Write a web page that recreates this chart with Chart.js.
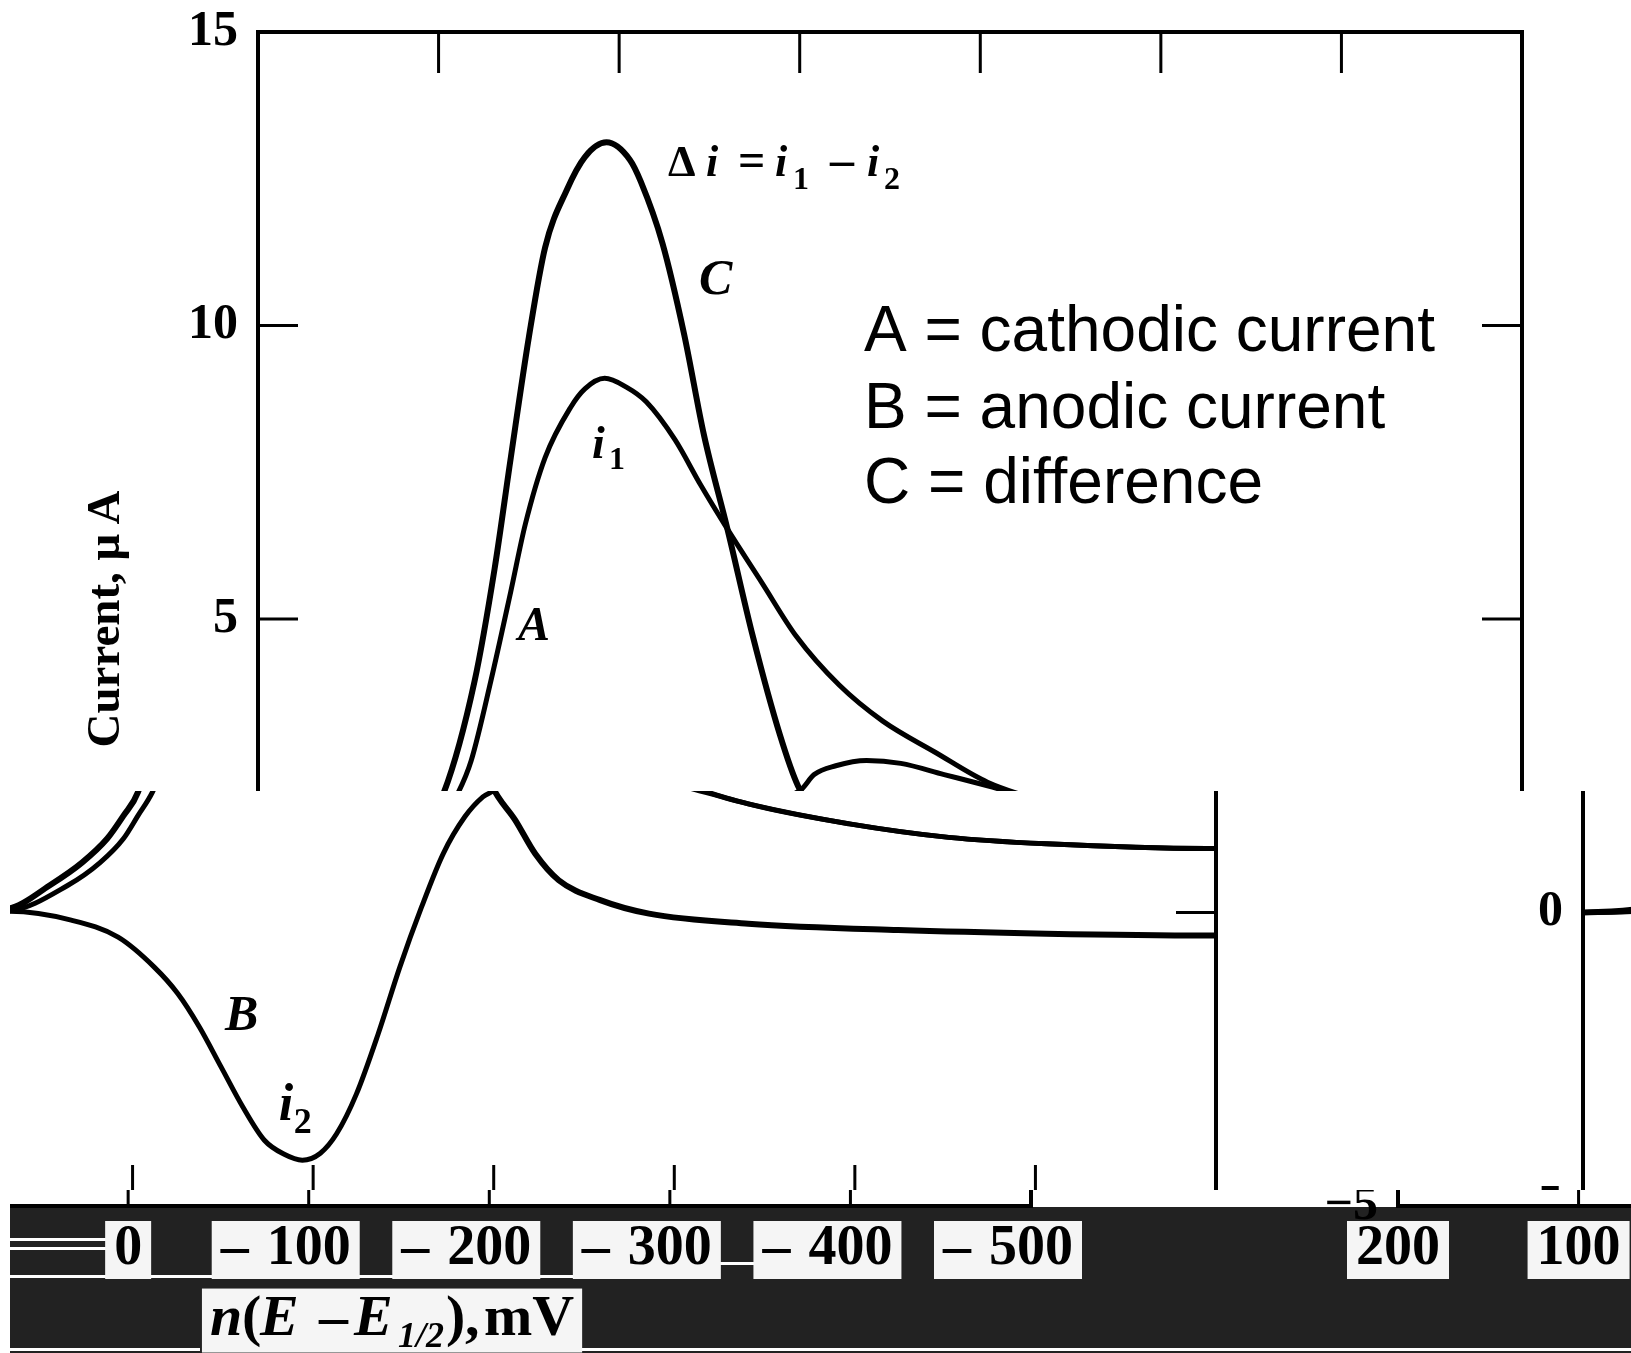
<!DOCTYPE html>
<html>
<head>
<meta charset="utf-8">
<title>Square wave voltammogram</title>
<script src="https://cdn.jsdelivr.net/npm/chart.js@4.4.0/dist/chart.umd.min.js"></script>
<style>
  html, body { margin: 0; padding: 0; background: #fff; }
  #page { position: relative; width: 1631px; height: 1353px; overflow: hidden; background: #fff; }
  .strip { position: absolute; left: 0; width: 1631px; overflow: hidden; }
  .copy { position: absolute; width: 1631px; height: 1353px; }
  .copy canvas { display: block; }
  .band { position: absolute; left: 10px; right: 0; background: #222; }
  .scratch { position: absolute; height: 3px; background: #fff; }
  .margin { position: absolute; left: 0; top: 0; bottom: 0; width: 10px; background: #fff; z-index: 2; }
</style>
</head>
<body>
<div id="page"></div>
<script>
// n(E - E1/2) in mV, currents in uA
const cathodicE = [200, 168, 136, 118, 105, 97, 89, 82, 71, 60, 52, 41, 27, 19, 8, -4, -15, -31, -45, -60, -79, -98, -122, -146, -175, -204, -241, -297, -352, -406, -495, -500];
const cathodicI = [0, 0.03, 0.46, 0.85, 1.26, 1.65, 2.05, 2.58, 3.95, 5.47, 6.61, 7.75, 8.6, 8.92, 9.1, 8.95, 8.7, 8.05, 7.29, 6.53, 5.62, 4.71, 3.87, 3.26, 2.73, 2.22, 1.85, 1.51, 1.28, 1.17, 1.09, 1.09];

const anodicE = [200, 168, 134, 108, 88, 75, 63, 51, 39, 27, 16, 6, -4, -13, -24, -36, -48, -60, -72, -84, -94, -101, -108, -120, -137, -156, -180, -204, -241, -297, -352, -406, -495, -500];
const anodicI = [0, 0.02, -0.13, -0.42, -0.93, -1.38, -1.95, -2.63, -3.31, -3.88, -4.12, -4.22, -4.1, -3.77, -3.09, -2.07, -0.93, 0.09, 1.0, 1.63, 1.97, 2.1, 2.35, 2.5, 2.59, 2.54, 2.35, 2.16, 1.85, 1.51, 1.28, 1.17, 1.09, 1.09];

const diffE = [200, 168, 146, 128, 114, 105, 97, 80, 69, 60, 50, 41, 29, 19, 7, -6, -12, -24, -36, -47, -60, -74, -89, -99, -112, -123, -136, -159, -186, -241, -324, -406, -495, -500];
const diffI = [0, 0.07, 0.46, 0.85, 1.26, 1.65, 2.05, 3.95, 5.85, 7.75, 9.8, 11.33, 12.31, 12.87, 13.12, 12.82, 12.45, 11.4, 9.85, 8.13, 6.53, 4.71, 3.03, 2.16, 1.57, 1.0, 0.55, 0.21, -0.02, -0.19, -0.3, -0.36, -0.39, -0.39];

const legendLines = ['A = cathodic current', 'B = anodic current', 'C = difference'];
const yTitle = 'Current, \u03bc\u2009A';

const serif = 'Liberation Serif';
const B = s => `bold ${s}px ${serif}`;
const BI = s => `italic bold ${s}px ${serif}`;

function toPoints(xs, ys) {
  return xs.map((x, i) => ({ x: x, y: ys[i] }));
}

function yLabel(v) {
  return v < 0 ? '\u2212' + (-v) : String(v);
}

// text placed by a data anchor, then pixel offsets for each piece
const notes = [
  { at: [-27.1, 12.54], parts: [
    { t: '\u0394', f: B(44), dx: 0 }, { t: 'i', f: BI(44), dx: 38 }, { t: '=', f: B(48), dx: 70 },
    { t: 'i', f: BI(44), dx: 107 }, { t: '1', f: B(32), dx: 125, dy: 13 }, { t: '\u2013', f: B(48), dx: 162 },
    { t: 'i', f: BI(44), dx: 199 }, { t: '2', f: B(32), dx: 216, dy: 13 }] },
  { at: [-44.2, 10.53], parts: [{ t: 'C', f: BI(50), dx: 0 }] },
  { at: [56.0, 4.64], parts: [{ t: 'A', f: BI(48), dx: 0 }] },
  { at: [15.0, 7.75], parts: [{ t: 'i', f: BI(46), dx: 0 }, { t: '1', f: B(32), dx: 17, dy: 11 }] },
  { at: [48.8, -2.01], parts: [{ t: 'B', f: BI(50), dx: 0 }] },
  { at: [19.1, -3.54], parts: [{ t: 'i', f: BI(52), dx: 0 }, { t: '2', f: B(36), dx: 15, dy: 13 }] }
];

const axisTitle = { at: [-45.3, -7.19], parts: [
  { t: 'n', f: BI(58), dx: 0 }, { t: '(', f: B(58), dx: 32 }, { t: 'E', f: BI(58), dx: 50 },
  { t: '\u2013', f: B(58), dx: 109 }, { t: 'E', f: BI(58), dx: 144 }, { t: '1/2', f: BI(36), dx: 188, dy: 12 },
  { t: ')', f: B(58), dx: 236 }, { t: ',', f: B(58), dx: 255 }, { t: 'mV', f: B(58), dx: 274 }] };

function drawParts(ctx, x0, y0, parts) {
  parts.forEach(p => {
    ctx.font = p.f;
    ctx.fillText(p.t, x0 + p.dx, y0 + (p.dy || 0));
  });
}

const framePlugin = {
  id: 'frame',
  afterDatasetsDraw(chart) {
    const { ctx, chartArea: a, scales: { x, y } } = chart;
    ctx.save();
    ctx.strokeStyle = '#000';
    ctx.lineWidth = 4;
    ctx.strokeRect(a.left, a.top, a.right - a.left, a.bottom - a.top);
    ctx.lineWidth = 3;
    ctx.beginPath();
    x.ticks.forEach(t => {
      const p = x.getPixelForValue(t.value);
      ctx.moveTo(p, a.top); ctx.lineTo(p, a.top + 41);
      ctx.moveTo(p, a.bottom); ctx.lineTo(p, a.bottom - 41);
    });
    y.ticks.forEach(t => {
      const p = y.getPixelForValue(t.value);
      ctx.moveTo(a.left, p); ctx.lineTo(a.left + 40, p);
      ctx.moveTo(a.right, p); ctx.lineTo(a.right - 40, p);
    });
    ctx.stroke();

    // tick labels
    ctx.textBaseline = 'middle';
    ctx.fillStyle = '#000';
    ctx.font = B(50);
    ctx.textAlign = 'right';
    y.ticks.forEach(t => ctx.fillText(yLabel(t.value), a.left - 20, y.getPixelForValue(t.value)));

    ctx.font = B(56);
    ctx.textAlign = 'left';
    const cy = a.bottom + 44;
    const dashW = ctx.measureText('\u2013').width;
    x.ticks.forEach(t => {
      const p = x.getPixelForValue(t.value);
      const digits = String(Math.abs(t.value));
      const w = ctx.measureText(digits).width;
      const left = p - w / 2;
      const dashX = left - 18 - dashW;
      const boxL = t.value < 0 ? dashX - 9 : left - 9;
      ctx.fillStyle = '#f5f5f5';
      ctx.fillRect(boxL, cy - 29, left + w + 9 - boxL, 58);
      ctx.fillStyle = '#000';
      if (t.value < 0) ctx.fillText('\u2013', dashX, cy);
      ctx.fillText(digits, left, cy);
    });
    ctx.restore();
  }
};

const notesPlugin = {
  id: 'notes',
  afterDraw(chart) {
    const { ctx, scales: { x, y } } = chart;
    ctx.save();
    ctx.fillStyle = '#000';
    ctx.textBaseline = 'alphabetic';
    ctx.textAlign = 'left';
    notes.forEach(n => drawParts(ctx, x.getPixelForValue(n.at[0]), y.getPixelForValue(n.at[1]), n.parts));

    // x axis title on a light patch
    const tx = x.getPixelForValue(axisTitle.at[0]);
    const ty = y.getPixelForValue(axisTitle.at[1]);
    ctx.font = B(58);
    const tw = 274 + ctx.measureText('mV').width;
    ctx.fillStyle = '#f5f5f5';
    ctx.fillRect(tx - 8, ty - 46, tw + 16, 64);
    ctx.fillStyle = '#000';
    drawParts(ctx, tx, ty, axisTitle.parts);

    // legend text block
    ctx.font = '64px "Liberation Sans"';
    const lx = x.getPixelForValue(-135.6);
    const baselines = [9.56, 8.26, 6.98];
    legendLines.forEach((line, i) => {
      ctx.fillText(line, lx, y.getPixelForValue(baselines[i]));
    });
    ctx.restore();
  }
};

function makeChart(canvas) {
  return new Chart(canvas, {
    type: 'line',
    data: {
      datasets: [
        { label: 'C', data: toPoints(diffE, diffI), borderWidth: 6 },
        { label: 'A', data: toPoints(cathodicE, cathodicI), borderWidth: 5 },
        { label: 'B', data: toPoints(anodicE, anodicI), borderWidth: 5 }
      ]
    },
    options: {
      responsive: false,
      animation: false,
      devicePixelRatio: 1,
      layout: { padding: { top: 32, right: 109, left: 0, bottom: 0 } },
      elements: {
        point: { radius: 0 },
        line: { borderColor: '#000', fill: false, cubicInterpolationMode: 'monotone' }
      },
      plugins: { legend: { display: false }, tooltip: { enabled: false } },
      scales: {
        x: {
          type: 'linear',
          reverse: true,
          min: -500,
          max: 200,
          grid: { display: false, drawTicks: false },
          border: { display: false },
          ticks: { stepSize: 100, display: false },
          afterFit(s) { s.height = 147; }
        },
        y: {
          min: -5,
          max: 15,
          grid: { display: false, drawTicks: false },
          border: { display: false },
          ticks: { stepSize: 5, display: false },
          title: {
            display: true,
            text: yTitle,
            color: '#000',
            font: { family: serif, size: 47, weight: 'bold' },
            padding: { top: 79, bottom: 0 }
          },
          afterFit(s) { s.width = 258; }
        }
      }
    },
    plugins: [framePlugin, notesPlugin]
  });
}

// the picture is cut into three bands, each slid sideways and wrapped
const strips = [
  { top: 0, height: 791, shifts: [0] },
  { top: 791, height: 399, shifts: [-306, 1325], margin: true },
  { top: 1190, height: 163, shifts: [-491, 1140], dark: true, margin: true }
];

const page = document.getElementById('page');
strips.forEach(s => {
  const strip = document.createElement('div');
  strip.className = 'strip';
  strip.style.top = s.top + 'px';
  strip.style.height = s.height + 'px';
  if (s.dark) {
    const band = document.createElement('div');
    band.className = 'band';
    band.style.top = '17px';
    band.style.height = (s.height - 17) + 'px';
    strip.appendChild(band);
    [[48, 0, 140], [57, 0, 150], [72, 600, 260], [85, 10, 590], [158, 10, 190], [158, 560, 1071]].forEach(r => {
      const line = document.createElement('div');
      line.className = 'scratch';
      line.style.top = r[0] + 'px';
      line.style.left = r[1] + 'px';
      line.style.width = r[2] + 'px';
      strip.appendChild(line);
    });
  }
  s.shifts.forEach(shift => {
    const wrap = document.createElement('div');
    wrap.className = 'copy';
    wrap.style.left = shift + 'px';
    wrap.style.top = (-s.top) + 'px';
    const canvas = document.createElement('canvas');
    canvas.width = 1631;
    canvas.height = 1353;
    wrap.appendChild(canvas);
    strip.appendChild(wrap);
    makeChart(canvas);
  });
  if (s.margin) {
    const m = document.createElement('div');
    m.className = 'margin';
    strip.appendChild(m);
  }
  page.appendChild(strip);
});
</script>
</body>
</html>
